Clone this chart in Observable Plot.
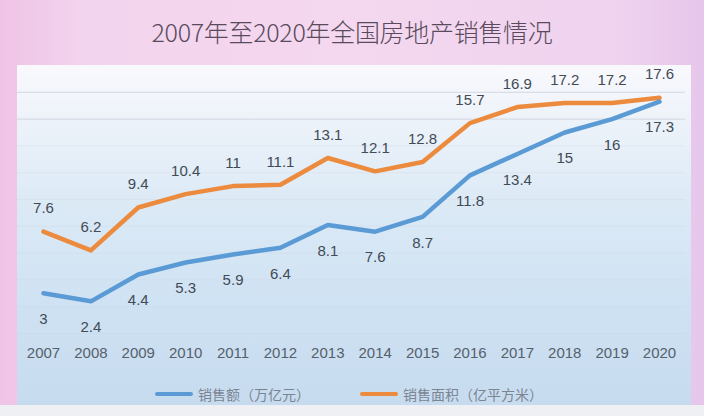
<!DOCTYPE html>
<html>
<head>
<meta charset="utf-8">
<script src="https://cdn.jsdelivr.net/npm/d3@7"></script>
<script src="https://cdn.jsdelivr.net/npm/@observablehq/plot@0.6"></script>
<style>
  html, body { margin: 0; padding: 0; }
  body {
    width: 704px; height: 416px; overflow: hidden; position: relative;
    background: linear-gradient(to right, #efc3e6 0%, #f3d4ee 12%, #f4d8ef 50%, #efd2ee 88%, #e6c6ec 100%);
    font-family: "Liberation Sans", Arial, sans-serif;
  }
  #title {
    position: absolute; left: 0; top: 13px; width: 704px; text-align: center;
    font-family: "Noto Sans CJK SC", sans-serif; font-size: 25px; font-weight: 300; color: #5a4b5c;
    letter-spacing: -0.3px;
  }
  #panel {
    position: absolute; left: 17px; top: 65px; width: 674px; height: 340px;
    background: linear-gradient(to bottom, #f9f9fd 0%, #eef3fa 15%, #dceaf6 40%, #cfe2f3 70%, #c7dbef 100%);
  }
  #bottom {
    position: absolute; left: 0; top: 405px; width: 704px; height: 11px; background: #eef0f4;
  }
  #chart { position: absolute; left: 0; top: 0; }
  #legend {
    position: absolute; top: 384px; left: 0; width: 704px; height: 20px;
    font-family: "Noto Sans CJK SC", sans-serif; font-size: 14px; color: #7a8492;
  }
  .item { position: absolute; top: 0; display: flex; align-items: center; height: 20px; }
  .sw { width: 38px; height: 4px; margin-right: 5px; border-radius: 2px; }
</style>
</head>
<body>
<div id="panel"></div>
<div id="bottom"></div>
<div id="title"></div>
<div id="chart"></div>
<div id="legend"></div>
<script>
const titleText = "2007年至2020年全国房地产销售情况";
const years = [2007, 2008, 2009, 2010, 2011, 2012, 2013, 2014, 2015, 2016, 2017, 2018, 2019, 2020];
const salesAmount = [3, 2.4, 4.4, 5.3, 5.9, 6.4, 8.1, 7.6, 8.7, 11.8, 13.4, 15, 16, 17.3];
const salesArea = [7.6, 6.2, 9.4, 10.4, 11, 11.1, 13.1, 12.1, 12.8, 15.7, 16.9, 17.2, 17.2, 17.6];
const seriesNames = ["销售额（万亿元）", "销售面积（亿平方米）"];
const seriesColors = ["#5b9bd5", "#ec8a3e"];
const gridValues = [0, 2, 4, 6, 8, 10, 12, 14, 16, 18];

document.getElementById("title").textContent = titleText;

const amountData = years.map((y, i) => ({year: y, value: salesAmount[i]}));
const areaData = years.map((y, i) => ({year: y, value: salesArea[i]}));

const chart = Plot.plot({
  width: 704,
  height: 370,
  marginLeft: 43,
  marginRight: 45,
  marginTop: 65,
  marginBottom: 37,
  style: {background: "transparent", fontFamily: "Liberation Sans, Arial, sans-serif"},
  x: {domain: [2007, 2020], label: null},
  y: {domain: [0, 20], axis: null, label: null},
  marks: [
    Plot.ruleY(gridValues, {x1: 2006.45, x2: 2020.55, stroke: "#c4cad6", strokeOpacity: d => d >= 16 ? 0.7 : 0.18, strokeWidth: 1}),
    Plot.axisX(years, {tickSize: 0, tickPadding: 14, tickFormat: d => String(d), fontSize: 15, fill: "#56606b", textStroke: "none", label: null}),
    Plot.line(areaData, {x: "year", y: "value", stroke: seriesColors[1], strokeWidth: 4.5, strokeLinejoin: "round", strokeLinecap: "round"}),
    Plot.line(amountData, {x: "year", y: "value", stroke: seriesColors[0], strokeWidth: 4.5, strokeLinejoin: "round", strokeLinecap: "round"}),
    Plot.text(areaData, {x: "year", y: "value", text: d => String(d.value), dy: -23, fontSize: 15, fill: "#414b56"}),
    Plot.text(amountData, {x: "year", y: "value", text: d => String(d.value), dy: 26, fontSize: 15, fill: "#414b56"})
  ]
});
document.getElementById("chart").appendChild(chart);

const legend = document.getElementById("legend");
const legendLeft = [155, 360];
seriesNames.forEach((name, i) => {
  const item = document.createElement("div");
  item.className = "item";
  item.style.left = legendLeft[i] + "px";
  const sw = document.createElement("span");
  sw.className = "sw";
  sw.style.background = seriesColors[i];
  const label = document.createElement("span");
  label.textContent = name;
  item.appendChild(sw);
  item.appendChild(label);
  legend.appendChild(item);
});
</script>
</body>
</html>
